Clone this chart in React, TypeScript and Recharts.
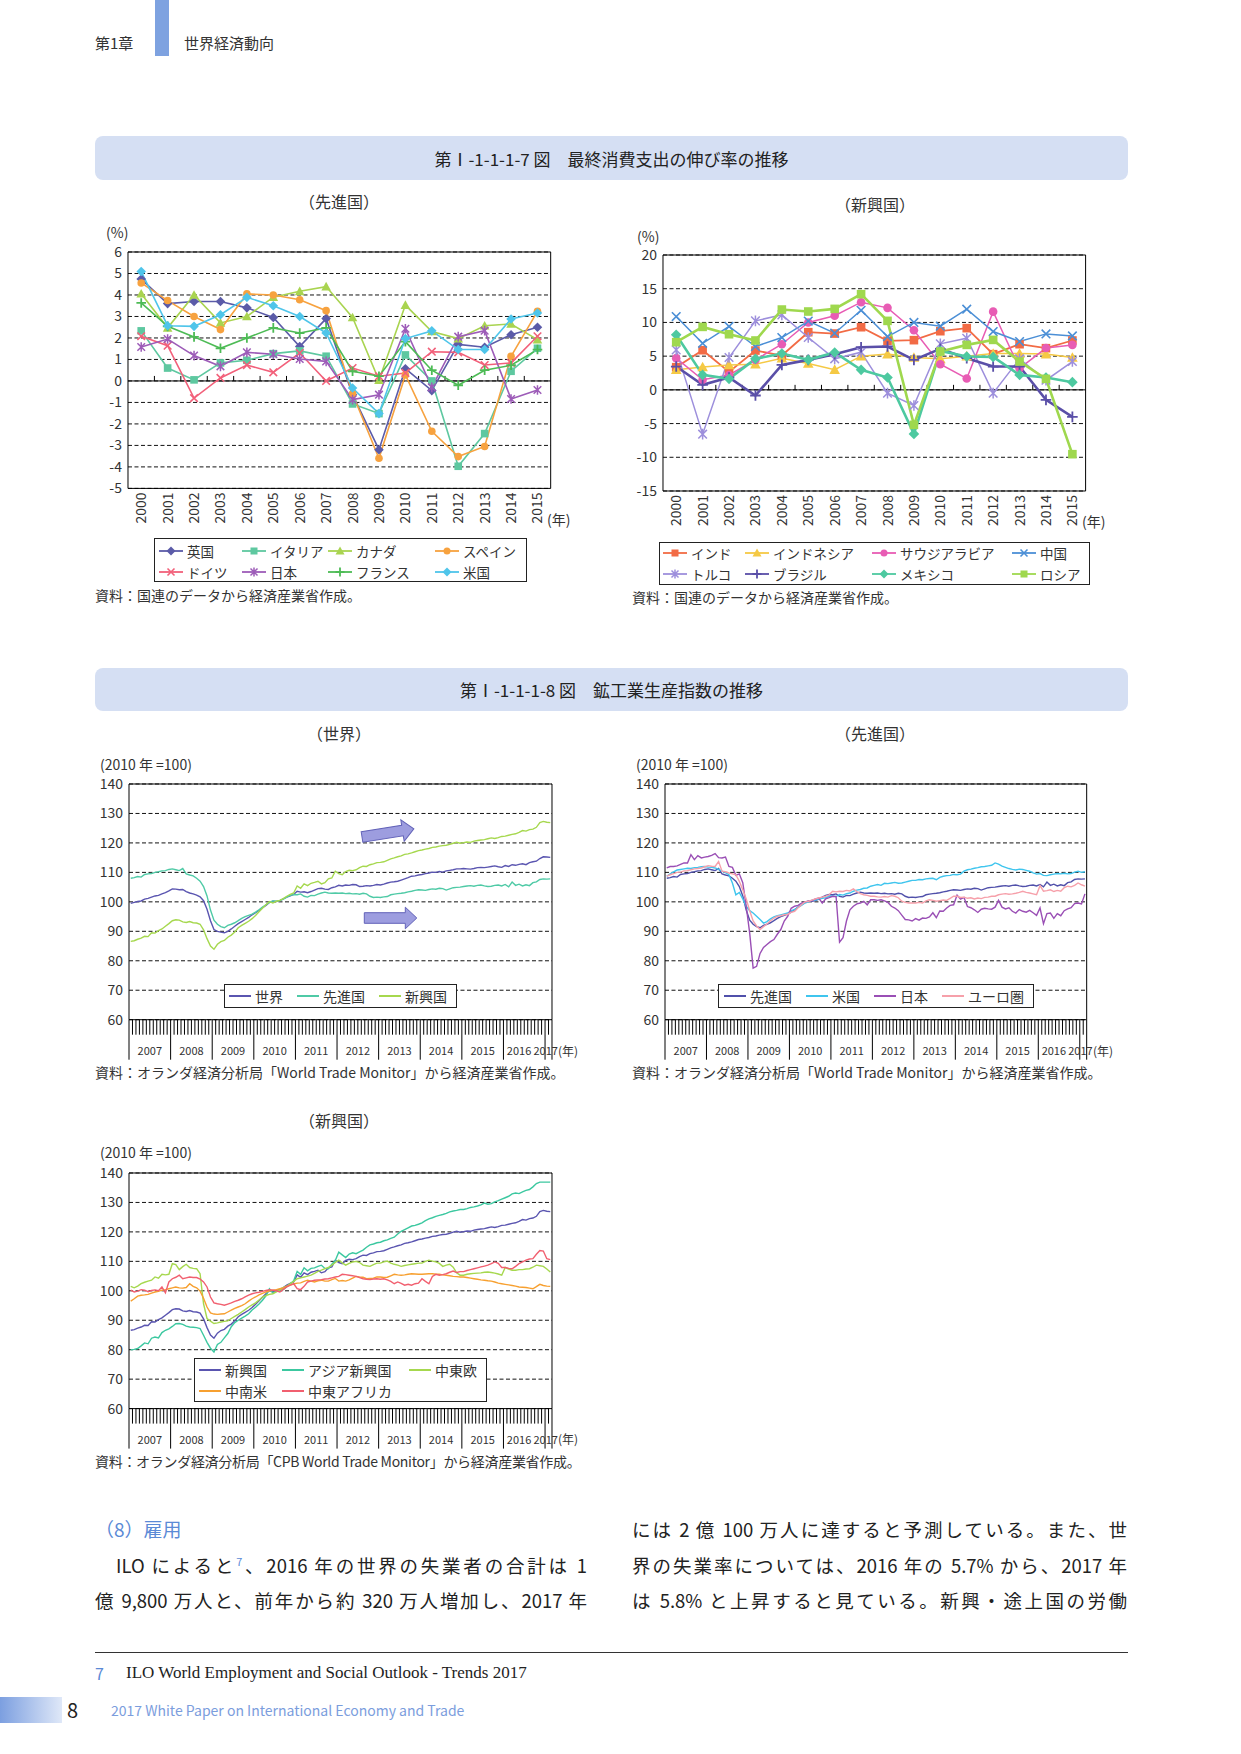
import React from 'react'
import { LineChart, Line, XAxis, YAxis, CartesianGrid, ReferenceLine, ReferenceArea } from 'recharts'

const FONT = '"Noto Sans CJK JP", "Noto Sans", sans-serif'
const INK = '#333333'
const BLUE_TEXT = '#5b8ad6'

// 第I-1-1-1-7図 最終消費支出の伸び率（%）
const years = ['2000', '2001', '2002', '2003', '2004', '2005', '2006', '2007', '2008', '2009', '2010', '2011', '2012', '2013', '2014', '2015']
const advTicks = [-5, -4, -3, -2, -1, 0, 1, 2, 3, 4, 5, 6]
const emgTicks = [-15, -10, -5, 0, 5, 10, 15, 20]

// 先進国
const ukCons = [4.74, 3.6, 3.7, 3.7, 3.4, 2.95, 1.6, 2.9, -0.64, -3.2, 0.57, -0.45, 1.7, 1.57, 2.15, 2.5]
const italyCons = [2.33, 0.6, 0.05, 0.84, 0.96, 1.27, 1.4, 1.15, -1.07, -1.52, 1.21, 0.0, -3.97, -2.45, 0.45, 1.52]
const canadaCons = [4.06, 2.47, 4.0, 2.7, 3.0, 3.9, 4.17, 4.39, 2.95, 0.03, 3.53, 2.3, 1.97, 2.57, 2.65, 1.92]
const spainCons = [4.56, 3.74, 3.0, 2.39, 4.05, 4.0, 3.78, 3.27, -0.6, -3.6, 0.28, -2.34, -3.52, -3.05, 1.15, 3.24]
const germanyCons = [2.08, 1.64, -0.8, 0.14, 0.74, 0.4, 1.3, 0.0, 0.6, 0.22, 0.37, 1.36, 1.33, 0.74, 0.84, 2.08]
const japanCons = [1.58, 1.95, 1.18, 0.68, 1.33, 1.24, 1.02, 0.91, -0.87, -0.64, 2.43, -0.3, 2.06, 2.34, -0.84, -0.42]
const franceCons = [3.63, 2.54, 2.05, 1.52, 2.0, 2.47, 2.23, 2.47, 0.45, 0.22, 1.83, 0.5, -0.2, 0.5, 0.73, 1.46]
const usCons = [5.09, 2.57, 2.54, 3.08, 3.89, 3.5, 3.0, 2.23, -0.33, -1.52, 1.97, 2.33, 1.46, 1.46, 2.88, 3.16]

// 新興国
const indiaCons = [3.36, 5.88, 2.67, 5.83, 5.09, 8.55, 8.35, 9.29, 7.27, 7.37, 8.7, 9.15, 5.29, 6.77, 6.18, 7.32]
const indonesiaCons = [3.0, 3.4, 3.7, 3.8, 4.7, 3.9, 3.0, 5.0, 5.3, 4.8, 4.6, 5.0, 5.4, 5.4, 5.3, 4.8]
const saudiCons = [4.7, 1.5, 2.2, 4.45, 6.77, 10.0, 11.0, 13.0, 12.16, 8.85, 3.8, 1.68, 11.6, 3.2, 6.2, 6.67]
const chinaCons = [10.87, 6.9, 9.4, 6.43, 7.76, 10.2, 8.4, 11.8, 7.9, 10.0, 9.44, 11.96, 8.65, 7.17, 8.3, 8.0]
const turkeyCons = [5.93, -6.57, 4.8, 10.23, 11.12, 7.76, 4.6, 5.59, -0.49, -2.32, 6.82, 7.66, -0.49, 4.6, 1.43, 4.2]
const brazilCons = [3.46, 0.74, 1.83, -0.84, 3.7, 4.45, 5.29, 6.33, 6.43, 4.45, 6.08, 4.7, 3.46, 3.46, -1.48, -4.0]
const mexicoCons = [8.16, 2.22, 1.63, 4.6, 5.39, 4.45, 5.54, 2.97, 1.83, -6.53, 5.78, 4.94, 4.89, 2.22, 1.83, 1.14]
const russiaCons = [7.07, 9.34, 8.25, 7.32, 11.91, 11.62, 12.01, 14.19, 10.23, -5.19, 5.68, 6.67, 7.41, 4.2, 1.63, -9.54]

// 第I-1-1-1-8図 鉱工業生産指数（2010年=100）, monthly 2007/01 - 2017/02
const ipYears = ['2007', '2008', '2009', '2010', '2011', '2012', '2013', '2014', '2015', '2016', '2017']
const ipTicks = [60, 70, 80, 90, 100, 110, 120, 130, 140]

const worldIP = [
  99.5, 99.8, 100.1, 100.3, 100.9, 101.2, 101.6, 102.0, 102.2, 102.7, 103.1, 103.7,
  104.4, 104.3, 104.1, 104.2, 103.5, 103.0, 102.7, 102.3, 101.7, 100.4, 97.5, 93.6,
  90.6, 90.0, 89.7, 89.5, 90.0, 90.8, 91.7, 92.6, 93.3, 94.0, 94.7, 95.6,
  96.3, 97.1, 98.0, 98.8, 99.8, 100.2, 100.1, 100.4, 101.0, 101.6, 102.0, 102.5,
  103.6, 103.3, 103.4, 103.1, 103.5, 104.0, 104.5, 104.6, 104.3, 104.2, 104.8, 105.1,
  105.6, 105.4, 105.7, 105.6, 105.9, 105.8, 105.2, 105.3, 105.5, 105.4, 105.6, 105.9,
  105.7, 106.0, 106.4, 106.7, 106.8, 107.0, 107.4, 107.8, 108.2, 108.7, 108.8, 109.1,
  109.3, 109.6, 109.8, 110.1, 110.0, 110.3, 110.1, 110.5, 110.7, 110.9, 111.2, 111.2,
  111.3, 111.2, 111.1, 111.3, 111.6, 111.7, 111.6, 111.8, 112.0, 112.2, 111.9, 111.7,
  112.3, 112.0, 112.6, 112.4, 112.7, 112.9, 112.6, 113.3, 113.6, 113.8, 114.7, 115.3,
  115.2, 115.1,
]
const advancedIP = [
  108.0, 108.2, 108.6, 108.4, 109.3, 109.5, 109.6, 110.0, 110.2, 110.5, 110.6, 111.0,
  111.2, 110.9, 110.6, 111.3, 109.5, 109.1, 108.8, 108.0, 107.0, 105.2, 102.0, 97.2,
  93.8, 92.4, 91.6, 91.2, 92.0, 92.4, 92.9, 93.6, 94.4, 95.0, 95.4, 95.8,
  96.5, 97.3, 98.2, 99.0, 99.8, 100.3, 100.2, 100.4, 100.9, 101.6, 102.2, 102.5,
  102.4, 102.7, 101.9, 101.6, 102.2, 102.1, 102.6, 103.0, 103.3, 103.0, 102.9, 103.0,
  102.9, 103.0, 102.8, 102.9, 102.7, 102.8, 102.6, 102.9, 102.7, 101.9, 101.5, 101.6,
  101.5, 101.7, 101.8, 102.4, 102.6, 102.8, 102.9, 103.1, 103.4, 103.6, 103.9, 104.1,
  104.0, 103.9, 104.2, 104.4, 104.3, 104.6, 104.5, 104.0, 104.4, 104.8, 104.9, 105.0,
  105.2, 105.4, 105.5, 105.3, 105.6, 105.7, 105.4, 105.2, 105.3, 105.6, 105.7, 105.4,
  105.9, 105.1, 106.7, 105.6, 106.0, 105.4, 105.8, 105.5, 106.5, 106.8, 107.6, 107.8,
  107.7, 107.8,
]
const emergingIP = [
  86.6, 86.8, 87.3, 87.7, 88.3, 88.2, 89.5, 89.4, 90.2, 90.8, 91.7, 92.6,
  93.6, 93.9, 93.8, 93.2, 93.0, 93.3, 92.9, 92.8, 92.4, 90.5, 87.5, 85.0,
  83.9, 85.6, 86.5, 86.9, 88.0, 88.7, 89.8, 91.2, 92.0, 92.7, 93.4, 94.3,
  95.4, 96.6, 97.8, 99.0, 100.1, 99.6, 100.2, 100.5, 101.1, 101.9, 102.5, 103.0,
  105.4, 104.6, 106.1, 105.5, 106.3, 106.6, 107.0, 106.1, 106.5, 107.8, 108.1, 110.4,
  109.6, 109.2, 110.3, 110.7, 110.6, 110.9, 111.6, 112.1, 112.0, 112.6, 112.9, 113.3,
  113.4, 113.6, 114.1, 114.6, 114.9, 115.3, 115.6, 116.1, 116.3, 116.6, 117.0, 117.4,
  117.6, 117.9, 118.1, 118.5, 118.6, 118.9, 119.1, 119.2, 119.5, 119.9, 120.2, 119.9,
  120.1, 120.3, 120.2, 120.6, 120.8, 121.0, 121.1, 121.4, 121.7, 121.5, 121.8, 122.2,
  122.3, 122.6, 122.9, 123.1, 123.6, 124.2, 124.0, 124.5, 124.7, 125.3, 126.9, 127.3,
  127.0, 126.9,
]
const usIP = [
  108.7, 109.5, 110.2, 110.8, 111.0, 111.2, 111.4, 111.3, 111.6, 111.7, 111.9, 112.0,
  111.8, 111.7, 111.5, 111.0, 110.4, 109.9, 109.2, 106.4, 102.4, 103.2, 101.0, 98.5,
  97.0, 96.2, 95.1, 94.0, 92.8, 93.3, 94.2, 94.9, 95.3, 95.6, 95.9, 96.2,
  96.9, 97.4, 98.2, 98.8, 99.6, 100.0, 100.6, 100.6, 100.9, 101.2, 101.4, 101.9,
  102.0, 101.8, 102.5, 102.3, 102.8, 103.0, 103.6, 104.0, 104.2, 104.6, 104.7, 105.3,
  105.6, 105.9, 105.6, 106.3, 106.2, 106.4, 106.6, 106.3, 106.4, 106.7, 107.0, 107.3,
  107.3, 107.6, 107.5, 107.8, 107.9, 108.0, 107.5, 108.3, 108.7, 108.9, 109.0, 109.3,
  109.2, 109.4, 110.4, 110.9, 111.1, 111.4, 111.6, 111.9, 112.0, 112.2, 112.4, 113.2,
  112.8, 112.1, 111.7, 111.3, 111.0, 110.8, 111.1, 111.0, 110.7, 110.4, 109.8, 109.4,
  109.6, 109.0, 108.9, 109.2, 109.4, 109.6, 109.5, 109.7, 109.5, 109.6, 110.1, 110.4,
  110.0, 110.2,
]
const japanIP = [
  111.5, 112.0, 112.0, 112.2, 112.7, 113.2, 113.2, 116.0, 114.3, 115.7, 114.9, 115.2,
  115.4, 115.8, 116.4, 115.0, 114.9, 115.2, 112.0, 111.7, 109.0, 109.5, 106.5, 98.5,
  89.4, 77.5, 78.1, 82.5, 84.5, 85.5, 86.5, 87.2, 89.0, 90.6, 93.5, 95.1,
  97.8, 98.5, 98.8, 99.6, 100.0, 100.2, 100.4, 101.0, 101.3, 99.6, 101.0, 101.4,
  101.9, 101.8, 86.3, 87.8, 93.5, 97.3, 98.5, 99.3, 99.6, 100.2, 99.0, 100.7,
  100.7, 100.5, 100.7, 100.3, 99.8, 98.5, 97.9, 97.0, 95.5, 94.0, 93.9, 93.5,
  94.3, 93.8, 94.5, 94.4, 94.9, 96.3, 94.6, 96.9, 96.8, 97.9, 98.8, 99.0,
  102.3, 100.9, 101.5, 98.4, 98.0, 97.3, 96.4, 97.5, 97.8, 97.6, 97.5, 98.2,
  100.5, 98.2, 97.6, 98.0, 96.8, 96.2, 97.4, 96.8, 96.5, 97.1, 96.3, 95.4,
  97.9, 92.6, 96.0, 96.2, 94.4, 96.0, 95.3, 97.0, 97.6, 98.0, 99.4, 99.6,
  99.3, 102.7,
]
const euroIP = [
  108.7, 109.2, 109.6, 110.0, 110.1, 110.5, 110.6, 110.9, 111.2, 111.3, 111.5, 111.9,
  112.3, 112.1, 112.0, 113.7, 110.4, 110.2, 109.8, 109.5, 109.2, 107.0, 104.1, 101.0,
  97.0, 93.5, 91.8, 90.6, 91.6, 92.5, 93.6, 94.5, 95.1, 95.3, 95.6, 95.8,
  96.4, 96.8, 98.0, 99.0, 100.0, 100.2, 100.6, 101.0, 101.3, 101.6, 101.9, 102.4,
  103.6, 103.4, 103.6, 103.5, 103.9, 103.7, 104.4, 103.5, 102.8, 102.4, 102.2, 101.9,
  101.9, 101.7, 101.6, 101.8, 101.6, 102.1, 101.9, 101.4, 100.2, 99.8, 99.6, 99.6,
  99.6, 99.8, 99.6, 100.3, 100.7, 100.5, 100.2, 100.4, 100.6, 100.5, 101.2, 101.9,
  101.9, 101.5, 101.6, 101.2, 101.4, 101.0, 101.3, 101.1, 101.5, 101.6, 101.9, 101.9,
  102.4, 102.6, 102.8, 102.6, 102.7, 102.9, 103.2, 103.6, 103.2, 103.0, 102.7, 102.4,
  105.5, 103.6, 103.8, 104.1, 103.5, 103.9, 103.6, 104.8, 105.3, 105.1, 105.6, 106.4,
  105.8, 105.3,
]
const asiaIP = [
  80.0, 80.1, 80.4, 81.3, 82.3, 82.0, 83.9, 84.3, 84.0, 85.8, 86.6, 87.1,
  87.9, 88.8, 88.9, 88.6, 88.0, 87.7, 87.6, 87.5, 87.2, 84.9, 82.5, 80.5,
  79.2, 81.8, 82.5, 84.0, 85.5, 87.8, 89.2, 90.0, 90.7, 91.4, 92.2, 93.5,
  94.4, 95.5, 96.8, 98.3, 100.7, 99.3, 99.8, 100.2, 100.4, 101.4, 102.4, 103.4,
  106.6, 105.6, 107.8, 106.8, 107.6, 107.8, 108.3, 108.7, 107.6, 107.5, 109.0, 110.3,
  113.1, 112.2, 111.3, 112.5, 112.9, 112.6, 113.2, 113.8, 114.8, 115.6, 115.9, 116.3,
  116.5, 117.0, 117.3, 117.8, 118.2, 119.3, 120.2, 120.8, 121.4, 122.0, 122.2, 122.6,
  123.1, 123.8, 124.4, 124.8, 125.3, 125.6, 125.9, 126.3, 126.8, 127.1, 127.3, 127.6,
  127.6, 127.9, 128.3, 128.5, 128.8, 129.2, 129.8, 129.4, 129.6, 130.2, 130.6, 131.1,
  131.6, 132.1, 132.9, 133.2, 133.0, 133.6, 134.1, 134.4, 135.3, 136.4, 136.9, 136.9,
  136.9, 136.9,
]
const ceeIP = [
  101.5, 101.0, 101.6, 102.4, 102.9, 103.3, 103.6, 104.7, 104.3, 105.6, 105.4, 105.6,
  109.2, 108.9, 107.2, 108.2, 109.0, 107.9, 107.6, 107.5, 105.8, 95.6, 90.6, 89.7,
  88.9, 89.1, 89.4, 89.6, 89.8, 90.6, 91.3, 92.0, 92.8, 93.6, 94.5, 95.2,
  95.9, 96.9, 97.9, 98.4, 98.8, 99.0, 99.6, 100.3, 101.1, 101.6, 102.4, 103.2,
  104.1, 104.4, 104.7, 105.0, 105.3, 105.9, 106.6, 107.0, 107.5, 107.9, 108.7, 109.6,
  110.4, 109.5, 108.7, 109.3, 109.8, 110.0, 109.6, 108.7, 108.5, 108.3, 108.9, 109.4,
  109.4, 109.8, 110.1, 109.4, 109.0, 108.7, 108.3, 108.6, 108.8, 109.0, 109.2, 109.4,
  109.4, 110.0, 110.4, 110.1, 109.8, 109.3, 108.3, 108.7, 109.0, 108.0, 106.1, 105.3,
  105.3, 105.6, 105.8, 105.9, 106.0, 106.1, 106.3, 106.4, 106.2, 106.0, 105.7, 105.3,
  107.9, 107.4, 107.0, 107.0, 107.2, 107.2, 107.4, 107.5, 108.0, 108.7, 108.5, 108.3,
  107.4, 106.4,
]
const latamIP = [
  96.5, 97.3, 98.2, 98.5, 98.6, 98.8, 99.2, 99.6, 99.8, 100.2, 100.4, 100.7,
  101.0, 101.3, 101.0, 100.9, 101.1, 102.4, 101.5, 101.0, 99.9, 97.5, 94.5, 92.5,
  92.1, 92.0, 92.1, 92.2, 92.8, 93.4, 94.0, 94.5, 95.0, 95.6, 96.5, 97.3,
  97.9, 98.6, 99.1, 99.6, 100.0, 100.2, 100.4, 100.7, 101.0, 101.5, 101.9, 102.3,
  102.6, 102.7, 103.2, 103.6, 103.3, 103.0, 103.4, 103.6, 103.3, 103.3, 103.8, 104.2,
  103.3, 103.5, 103.3, 103.7, 104.3, 104.9, 104.7, 104.6, 104.1, 104.2, 104.3, 104.7,
  104.7, 104.5, 104.6, 105.1, 105.6, 105.4, 105.3, 105.4, 105.6, 105.8, 105.7, 105.6,
  105.6, 105.7, 105.8, 105.8, 105.6, 105.6, 105.4, 105.3, 105.1, 104.9, 104.8, 104.7,
  104.7, 104.5, 104.3, 104.1, 103.9, 103.7, 103.6, 103.4, 103.3, 103.0, 102.6, 102.4,
  102.2, 102.0, 101.8, 101.6, 101.3, 101.2, 101.1, 100.9, 100.7, 101.4, 102.2, 101.8,
  101.6, 101.5,
]
const meaIP = [
  100.2, 99.6, 99.9, 100.4, 100.2, 99.7, 100.1, 100.3, 100.0, 101.3, 99.3, 103.0,
  104.1, 104.6, 105.3, 104.1, 104.4, 104.7, 104.5, 104.5, 104.0, 103.0, 101.3, 97.9,
  95.9, 95.6, 95.4, 95.1, 95.5, 95.9, 96.4, 96.8, 97.3, 97.9, 98.5, 99.0,
  99.3, 99.5, 99.8, 100.1, 100.4, 100.2, 100.0, 99.6, 100.5, 101.3, 101.9, 102.4,
  100.7, 100.4, 101.5, 103.0, 103.3, 103.6, 103.7, 103.8, 104.0, 104.1, 104.4, 104.7,
  104.9, 105.6, 105.5, 105.3, 105.1, 104.9, 104.5, 104.1, 103.9, 103.8, 104.0, 104.1,
  103.9, 104.1, 103.7, 103.2, 102.4, 103.0, 102.5, 101.9, 102.2, 101.9, 102.4, 102.6,
  104.1, 103.2, 102.4, 104.9, 105.6, 105.3, 105.5, 105.8, 106.3, 106.7, 106.2, 106.5,
  106.5, 106.9, 107.2, 107.5, 107.8, 108.1, 108.4, 108.7, 109.2, 109.8, 109.3, 107.9,
  107.9, 107.6, 107.5, 108.3, 109.2, 109.8, 110.4, 110.8, 110.9, 112.4, 113.7, 113.5,
  110.9, 110.6,
]

type Shape = 'diamond' | 'square' | 'triangle' | 'circle' | 'x' | 'star' | 'plus'
type Spec = { key: string; name: string; values: number[]; color: string; shape?: Shape; width: number }

const advSpecs: Spec[] = [
  { key: 'uk', name: '英国', values: ukCons, color: '#5b5ba8', shape: 'diamond', width: 1.6 },
  { key: 'it', name: 'イタリア', values: italyCons, color: '#5ec8a0', shape: 'square', width: 1.6 },
  { key: 'ca', name: 'カナダ', values: canadaCons, color: '#a9d450', shape: 'triangle', width: 1.6 },
  { key: 'es', name: 'スペイン', values: spainCons, color: '#f7a23f', shape: 'circle', width: 1.6 },
  { key: 'de', name: 'ドイツ', values: germanyCons, color: '#f2607a', shape: 'x', width: 1.6 },
  { key: 'jp', name: '日本', values: japanCons, color: '#9d5cb8', shape: 'star', width: 1.6 },
  { key: 'fr', name: 'フランス', values: franceCons, color: '#4dbb55', shape: 'plus', width: 1.6 },
  { key: 'us', name: '米国', values: usCons, color: '#4fc5ea', shape: 'diamond', width: 1.6 },
]
const emgSpecs: Spec[] = [
  { key: 'in', name: 'インド', values: indiaCons, color: '#f26b45', shape: 'square', width: 1.8 },
  { key: 'id', name: 'インドネシア', values: indonesiaCons, color: '#f5c944', shape: 'triangle', width: 1.5 },
  { key: 'sa', name: 'サウジアラビア', values: saudiCons, color: '#e85cb4', shape: 'circle', width: 1.5 },
  { key: 'cn', name: '中国', values: chinaCons, color: '#4b8fd6', shape: 'x', width: 1.5 },
  { key: 'tr', name: 'トルコ', values: turkeyCons, color: '#9d8fdc', shape: 'star', width: 1.5 },
  { key: 'br', name: 'ブラジル', values: brazilCons, color: '#5a4fa8', shape: 'plus', width: 2.6 },
  { key: 'mx', name: 'メキシコ', values: mexicoCons, color: '#4dc9a0', shape: 'diamond', width: 2.6 },
  { key: 'ru', name: 'ロシア', values: russiaCons, color: '#9fd84e', shape: 'square', width: 2.6 },
]
const worldSpecs: Spec[] = [
  { key: 'world', name: '世界', values: worldIP, color: '#5a55b0', width: 1.4 },
  { key: 'adv', name: '先進国', values: advancedIP, color: '#4fcaa6', width: 1.4 },
  { key: 'emg', name: '新興国', values: emergingIP, color: '#a6d84e', width: 1.4 },
]
const advIPSpecs: Spec[] = [
  { key: 'adv', name: '先進国', values: advancedIP, color: '#5050aa', width: 1.4 },
  { key: 'us', name: '米国', values: usIP, color: '#3fc5ee', width: 1.4 },
  { key: 'jp', name: '日本', values: japanIP, color: '#9a4fb5', width: 1.4 },
  { key: 'eu', name: 'ユーロ圏', values: euroIP, color: '#f6a0aa', width: 1.4 },
]
const emgIPSpecs: Spec[] = [
  { key: 'emg', name: '新興国', values: emergingIP, color: '#5a55b0', width: 1.4 },
  { key: 'asia', name: 'アジア新興国', values: asiaIP, color: '#3cc8a0', width: 1.4 },
  { key: 'cee', name: '中東欧', values: ceeIP, color: '#a6d84e', width: 1.4 },
  { key: 'latam', name: '中南米', values: latamIP, color: '#f7a030', width: 1.4 },
  { key: 'mea', name: '中東アフリカ', values: meaIP, color: '#f15f6f', width: 1.4 },
]

const toRows = (specs: Spec[], n: number, offset: number) =>
  Array.from({ length: n }, (_, i) => {
    const r: Record<string, number> = { x: i + offset }
    specs.forEach((s) => (r[s.key] = s.values[i]))
    return r
  })

function Mark({ cx, cy, shape, color, r = 4 }: { cx: number; cy: number; shape?: Shape; color: string; r?: number }) {
  if (cx == null || cy == null || !shape) return null
  const d = r + 1
  switch (shape) {
    case 'diamond':
      return <polygon points={`${cx},${cy - d} ${cx + d},${cy} ${cx},${cy + d} ${cx - d},${cy}`} fill={color} />
    case 'square':
      return <rect x={cx - r} y={cy - r} width={2 * r} height={2 * r} fill={color} />
    case 'triangle':
      return <polygon points={`${cx},${cy - d} ${cx + d},${cy + r} ${cx - d},${cy + r}`} fill={color} />
    case 'circle':
      return <circle cx={cx} cy={cy} r={r} fill={color} />
    case 'x':
      return <path d={`M${cx - r},${cy - r}L${cx + r},${cy + r}M${cx - r},${cy + r}L${cx + r},${cy - r}`} stroke={color} strokeWidth={1.6} />
    case 'star':
      return <path d={`M${cx - r},${cy - r}L${cx + r},${cy + r}M${cx - r},${cy + r}L${cx + r},${cy - r}M${cx},${cy - d}L${cx},${cy + d}`} stroke={color} strokeWidth={1.5} />
    case 'plus':
      return <path d={`M${cx - d},${cy}L${cx + d},${cy}M${cx},${cy - d}L${cx},${cy + d}`} stroke={color} strokeWidth={1.8} />
  }
  return null
}

const zeroLine = (n: number) => (p: any) => {
  const { x1, x2, y1 } = p
  const bw = (x2 - x1) / n
  let d = `M${x1},${y1}H${x2}`
  for (let k = 1; k < n; k++) d += `M${x1 + k * bw},${y1}V${y1 - 5}`
  return <path d={d} stroke="#000" strokeWidth={1} fill="none" />
}

const yearTick = (p: any) => (
  <text transform={`translate(${p.x + 5},${p.y + 4}) rotate(-90)`} textAnchor="end" fontSize={14} fill={INK}>
    {years[p.payload.value]}
  </text>
)

const monthTick = (n: number) => (p: any) => {
  const v = p.payload.value
  const edge = v % 12 === 0 || v === n
  const lastFull = Math.floor((n - 1) / 12) * 12 - 6 // middle of the last full year
  let label: React.ReactNode = null
  if (v % 12 === 6) {
    const yi = Math.floor(v / 12)
    label = v === lastFull
      ? <text x={p.x + 7} y={p.y + 35} textAnchor="end" fontSize={11} fill={INK}>{ipYears[yi]}</text>
      : <text x={p.x} y={p.y + 35} textAnchor="middle" fontSize={11} fill={INK}>{ipYears[yi]}</text>
  } else if (v === n - 1) {
    label = <text x={p.x - 15} y={p.y + 35} textAnchor="start" fontSize={11} fill={INK}>{ipYears[ipYears.length - 1]}</text>
  }
  return (
    <g>
      <line x1={p.x} x2={p.x} y1={p.y} y2={p.y + (edge ? 40 : 15)} stroke="#000" strokeWidth={1} />
      {label}
    </g>
  )
}

function GrowthChart({ px, py, pw, ph, ticks, specs, mr = 4 }: { px: number; py: number; pw: number; ph: number; ticks: number[]; specs: Spec[]; mr?: number }) {
  const YW = 40, MT = 16, MR = 8, XH = 44
  const n = years.length
  const lo = ticks[0], hi = ticks[ticks.length - 1]
  const rows = toRows(specs, n, 0)
  return (
    <div style={{ position: 'absolute', left: px - YW, top: py - MT }}>
      <LineChart width={YW + pw + MR} height={MT + ph + XH} data={rows} margin={{ top: MT, right: MR, bottom: 0, left: 0 }}>
        <CartesianGrid vertical={false} stroke="#111" strokeDasharray="4 2.5" />
        <XAxis type="number" dataKey="x" domain={[-0.5, n - 0.5]} ticks={years.map((_, i) => i)} interval={0}
          axisLine={false} tickLine={false} tickSize={0} tickMargin={0} height={XH} tick={yearTick} />
        <YAxis type="number" domain={[lo, hi]} ticks={ticks} interval={0} axisLine={false} tickLine={false}
          tickSize={0} tickMargin={6} width={YW} tick={{ fontSize: 14, fill: INK }} />
        <ReferenceArea y1={lo} y2={hi} fill="none" fillOpacity={0} stroke="#000" strokeWidth={1} />
        <ReferenceLine y={0} shape={zeroLine(n)} />
        {specs.map((s) => (
          <Line key={s.key} type="linear" dataKey={s.key} stroke={s.color} strokeWidth={s.width} activeDot={false}
            isAnimationActive={false}
            dot={(p: any) => <Mark key={`${s.key}-${p.index}`} cx={p.cx} cy={p.cy} shape={s.shape} color={s.color} r={mr} />} />
        ))}
      </LineChart>
    </div>
  )
}

function IPChart({ px, py, pw, ph, specs }: { px: number; py: number; pw: number; ph: number; specs: Spec[] }) {
  const YW = 44, MT = 16, MR = 8, XH = 44
  const n = specs[0].values.length
  const lo = ipTicks[0], hi = ipTicks[ipTicks.length - 1]
  const rows = toRows(specs, n, 0.5)
  const bounds = Array.from({ length: n + 1 }, (_, i) => i)
  return (
    <div style={{ position: 'absolute', left: px - YW, top: py - MT }}>
      <LineChart width={YW + pw + MR} height={MT + ph + XH} data={rows} margin={{ top: MT, right: MR, bottom: 0, left: 0 }}>
        <CartesianGrid vertical={false} stroke="#111" strokeDasharray="4 2.5" />
        <XAxis type="number" dataKey="x" domain={[0, n]} ticks={bounds} interval={0}
          axisLine={false} tickLine={false} tickSize={0} tickMargin={0} height={XH} tick={monthTick(n)} />
        <YAxis type="number" domain={[lo, hi]} ticks={ipTicks} interval={0} axisLine={false} tickLine={false}
          tickSize={0} tickMargin={6} width={YW} tick={{ fontSize: 14, fill: INK }} />
        <ReferenceArea y1={lo} y2={hi} fill="none" fillOpacity={0} stroke="#000" strokeWidth={1} />
        {specs.map((s) => (
          <Line key={s.key} type="linear" dataKey={s.key} stroke={s.color} strokeWidth={s.width} dot={false}
            activeDot={false} isAnimationActive={false} />
        ))}
      </LineChart>
    </div>
  )
}

function LegendBox({ x, y, w, h, cols, rowsY, specs, sample, mr = 4, size = 14 }: {
  x: number; y: number; w: number; h: number; cols: number[]; rowsY: number[]; specs: Spec[]; sample: number; mr?: number; size?: number
}) {
  return (
    <div style={{ position: 'absolute', left: x, top: y, width: w, height: h, border: '1px solid #222', boxSizing: 'border-box', background: '#fff' }}>
      {specs.map((s, i) => (
        <div key={s.key} style={{ position: 'absolute', left: cols[i % cols.length] - 1, top: rowsY[Math.floor(i / cols.length)] - 10, height: 20, display: 'flex', alignItems: 'center', whiteSpace: 'nowrap', fontSize: size }}>
          <svg width={sample} height={14} style={{ overflow: 'visible' }}>
            <line x1={0} x2={sample} y1={7} y2={7} stroke={s.color} strokeWidth={s.shape ? 1.8 : 2} />
            <Mark cx={sample / 2} cy={7} shape={s.shape} color={s.color} r={mr} />
          </svg>
          <span style={{ marginLeft: 4, lineHeight: '20px' }}>{s.name}</span>
        </div>
      ))}
    </div>
  )
}

function T({ x, y, size, children, center, style }: { x: number; y: number; size: number; children: React.ReactNode; center?: boolean; style?: React.CSSProperties }) {
  return (
    <div style={{ position: 'absolute', left: x, top: y - size * 0.7, fontSize: size, lineHeight: `${size * 1.4}px`, whiteSpace: 'nowrap', transform: center ? 'translateX(-50%)' : undefined, ...style }}>
      {children}
    </div>
  )
}

function TextRow({ x, y, w, children }: { x: number; y: number; w: number; children: React.ReactNode }) {
  return (
    <div style={{ position: 'absolute', left: x, top: y - 13, width: w, height: 26, fontSize: 18.5, lineHeight: '26px', textAlign: 'justify', textAlignLast: 'justify', color: '#222' }}>
      {children}
    </div>
  )
}

function TitleBar({ y, h, text }: { y: number; h: number; text: string }) {
  return (
    <div style={{ position: 'absolute', left: 95, top: y, width: 1033, height: h, borderRadius: 8, background: '#d5dff3', display: 'flex', alignItems: 'center', justifyContent: 'center', fontSize: 17, color: '#222' }}>
      {text}
    </div>
  )
}

const arrowPts = '0,-5.3 41,-5.3 41,-10.8 52.5,0 41,10.8 41,5.3 0,5.3'

export default function App() {
  const srcWTM = '資料：オランダ経済分析局「World Trade Monitor」から経済産業省作成。'
  return (
    <div style={{ position: 'absolute', left: 0, top: 0, width: 1241, height: 1754, background: '#fff', fontFamily: FONT, color: INK, overflow: 'hidden' }}>
      {/* page header */}
      <T x={95} y={42} size={15}>第1章</T>
      <div style={{ position: 'absolute', left: 155, top: 0, width: 14, height: 56, background: '#7ea2e0' }} />
      <T x={184} y={42} size={15}>世界経済動向</T>

      {/* 第I-1-1-1-7図 */}
      <TitleBar y={136} h={44} text="第Ⅰ-1-1-1-7 図　最終消費支出の伸び率の推移" />
      <T x={339} y={201} size={16} center>（先進国）</T>
      <T x={875} y={204} size={16} center>（新興国）</T>
      <T x={106} y={233} size={14}>(%)</T>
      <T x={637} y={237} size={14}>(%)</T>

      <GrowthChart px={128.3} py={252.3} pw={422.7} ph={236.4} ticks={advTicks} specs={advSpecs} mr={3.8} />
      <GrowthChart px={662.7} py={255} pw={422.6} ph={236} ticks={emgTicks} specs={emgSpecs} mr={4.3} />

      <T x={547} y={520} size={14}>(年)</T>
      <T x={1082} y={522} size={14}>(年)</T>
      <LegendBox x={154} y={538} w={373} h={44} cols={[5, 88, 174, 281]} rowsY={[12, 33]} specs={advSpecs} sample={24} mr={3.5} size={13.5} />
      <LegendBox x={659} y={542} w={431} h={43} cols={[4, 86, 213, 353]} rowsY={[10, 31]} specs={emgSpecs} sample={24} mr={3.5} size={13.5} />
      <T x={95} y={596} size={14}>資料：国連のデータから経済産業省作成。</T>
      <T x={632} y={598} size={14}>資料：国連のデータから経済産業省作成。</T>

      {/* 第I-1-1-1-8図 */}
      <TitleBar y={668} h={43} text="第Ⅰ-1-1-1-8 図　鉱工業生産指数の推移" />
      <T x={339} y={733} size={16} center>（世界）</T>
      <T x={875} y={733} size={16} center>（先進国）</T>
      <T x={100} y={765} size={14}>(2010 年 =100)</T>
      <T x={636} y={765} size={14}>(2010 年 =100)</T>

      <IPChart px={129.3} py={784.3} pw={423} ph={235.7} specs={worldSpecs} />
      <IPChart px={665.3} py={784.3} pw={421.7} ph={235.7} specs={advIPSpecs} />

      <svg width={1241} height={1754} style={{ position: 'absolute', left: 0, top: 0, pointerEvents: 'none' }}>
        <polygon points={arrowPts} transform="translate(362,837) rotate(-9)" fill="#9d9ddf" stroke="#6262b8" strokeWidth={1} />
        <polygon points={arrowPts} transform="translate(364.3,918)" fill="#9d9ddf" stroke="#6262b8" strokeWidth={1} />
      </svg>

      <LegendBox x={224} y={984} w={233} h={24} cols={[5, 73, 155]} rowsY={[11]} specs={worldSpecs} sample={22} />
      <LegendBox x={718} y={984} w={316} h={24} cols={[6, 88, 156, 224]} rowsY={[11]} specs={advIPSpecs} sample={22} />
      <T x={558} y={1051} size={12}>(年)</T>
      <T x={1093} y={1051} size={12}>(年)</T>
      <T x={95} y={1073} size={14}>{srcWTM}</T>
      <T x={632} y={1073} size={14}>{srcWTM}</T>

      <T x={339} y={1120} size={16} center>（新興国）</T>
      <T x={100} y={1153} size={14}>(2010 年 =100)</T>
      <IPChart px={129.3} py={1172.7} pw={423} ph={235.6} specs={emgIPSpecs} />
      <LegendBox x={194} y={1358} w={293} h={44} cols={[5, 88, 215]} rowsY={[11, 32]} specs={emgIPSpecs} sample={22} />
      <T x={558} y={1439} size={12}>(年)</T>
      <T x={95} y={1462} size={14} style={{ letterSpacing: -0.3 }}>資料：オランダ経済分析局「CPB World Trade Monitor」から経済産業省作成。</T>

      {/* body text */}
      <T x={95} y={1529} size={19} style={{ color: BLUE_TEXT }}>（8）雇用</T>
      <TextRow x={116} y={1565} w={471}>
        ILO によると<sup style={{ color: BLUE_TEXT, fontSize: 11, lineHeight: 0 }}>7</sup>、2016 年の世界の失業者の合計は 1
      </TextRow>
      <TextRow x={95} y={1600} w={492}>億 9,800 万人と、前年から約 320 万人増加し、2017 年</TextRow>
      <TextRow x={632} y={1529} w={495}>には 2 億 100 万人に達すると予測している。また、世</TextRow>
      <TextRow x={632} y={1565} w={495}>界の失業率については、2016 年の 5.7% から、2017 年</TextRow>
      <TextRow x={632} y={1600} w={495}>は 5.8% と上昇すると見ている。新興・途上国の労働</TextRow>

      <div style={{ position: 'absolute', left: 95, top: 1652, width: 1033, height: 1, background: '#333' }} />
      <T x={95} y={1673} size={16} style={{ color: BLUE_TEXT }}>7</T>
      <T x={126} y={1673} size={17} style={{ fontFamily: '"Liberation Serif", serif', color: '#222' }}>
        ILO World Employment and Social Outlook - Trends 2017
      </T>

      <div style={{ position: 'absolute', left: 0, top: 1697, width: 62, height: 26, background: 'linear-gradient(to right, #7c9fe0, #dfe8f8)' }} />
      <T x={67} y={1710} size={20} style={{ color: '#222' }}>8</T>
      <T x={111} y={1711} size={14} style={{ color: '#7b9ddd' }}>2017 White Paper on International Economy and Trade</T>
    </div>
  )
}
